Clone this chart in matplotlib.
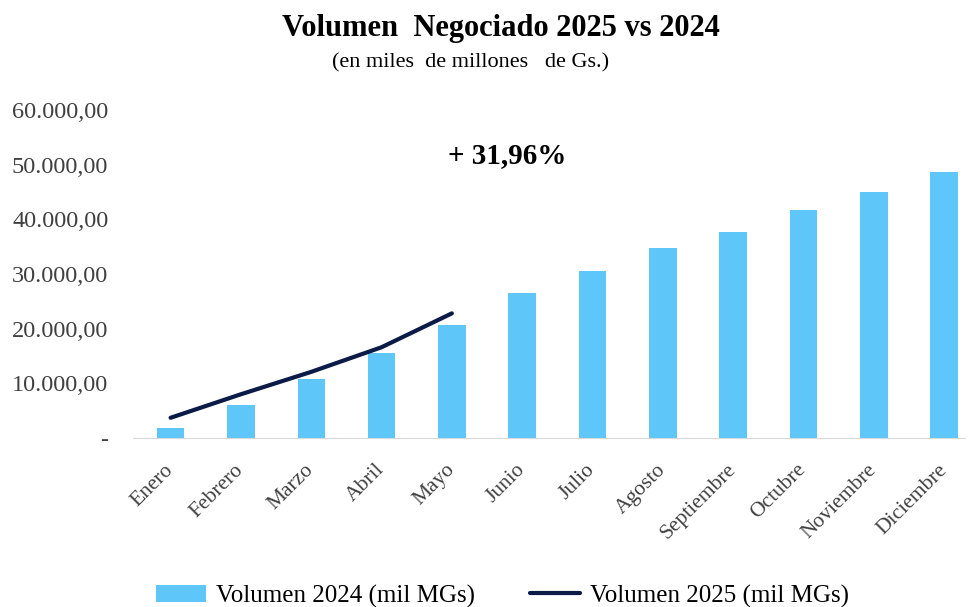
import matplotlib.pyplot as plt
import numpy as np

meses = ['Enero', 'Febrero', 'Marzo', 'Abril', 'Mayo', 'Junio', 'Julio',
         'Agosto', 'Septiembre', 'Octubre', 'Noviembre', 'Diciembre']
vol_2024 = [1900, 6000, 10800, 15600, 20700, 26600, 30600,
            34700, 37600, 41700, 45000, 48600]
vol_2025 = [3700, 8000, 12100, 16600, 22800]
variacion = '+ 31,96%'

plt.rcParams['font.family'] = ['Liberation Serif', 'DejaVu Serif']

fig = plt.figure(figsize=(9.73, 6.07), dpi=100)
ax = fig.add_axes([0.137, 0.2784, 0.855, 0.5404])

x = np.arange(len(meses))
barras = ax.bar(x, vol_2024, width=0.39, color='#5EC6F9', label='Volumen 2024 (mil MGs)', zorder=2)
linea, = ax.plot(x[:len(vol_2025)], vol_2025, color='#0B1A47', lw=3, solid_capstyle='round',
                 label='Volumen 2025 (mil MGs)', zorder=3)

ax.set_ylim(0, 60000)
ax.set_xlim(-0.53, 11.3)
ax.set_yticks(range(0, 60001, 10000))
ax.set_yticklabels(['-'] + ['{:,.2f}'.format(v).replace(',', 'X').replace('.', ',').replace('X', '.')
                            for v in range(10000, 60001, 10000)],
                   fontsize=17.5, color='#404040')
ax.set_xticks(x)
ax.set_xticklabels(meses, rotation=45, ha='right', va='center', rotation_mode='anchor',
                   fontsize=15.5, color='#404040')
ax.tick_params(axis='y', length=0, pad=18)
ax.tick_params(axis='x', length=0, pad=21)
for s in ['top', 'right', 'left']:
    ax.spines[s].set_visible(False)
ax.spines['bottom'].set_color('#D9D9D9')

ax.text(4.78, 51700, variacion, fontsize=21, fontweight='bold', ha='center', va='center')

fig.text(0.515, 0.953, 'Volumen  Negociado 2025 vs 2024', fontsize=22, fontweight='bold',
         ha='center', va='center')
fig.text(0.484, 0.897, '(en miles  de millones   de Gs.)', fontsize=16, ha='center', va='center')

fig.legend(handles=[barras, linea], loc='center', bbox_to_anchor=(0.516, 0.018), ncol=2,
           frameon=False, fontsize=18, handlelength=2.0, handletextpad=0.4, columnspacing=2.2)

fig.savefig('out.png', dpi=100)
